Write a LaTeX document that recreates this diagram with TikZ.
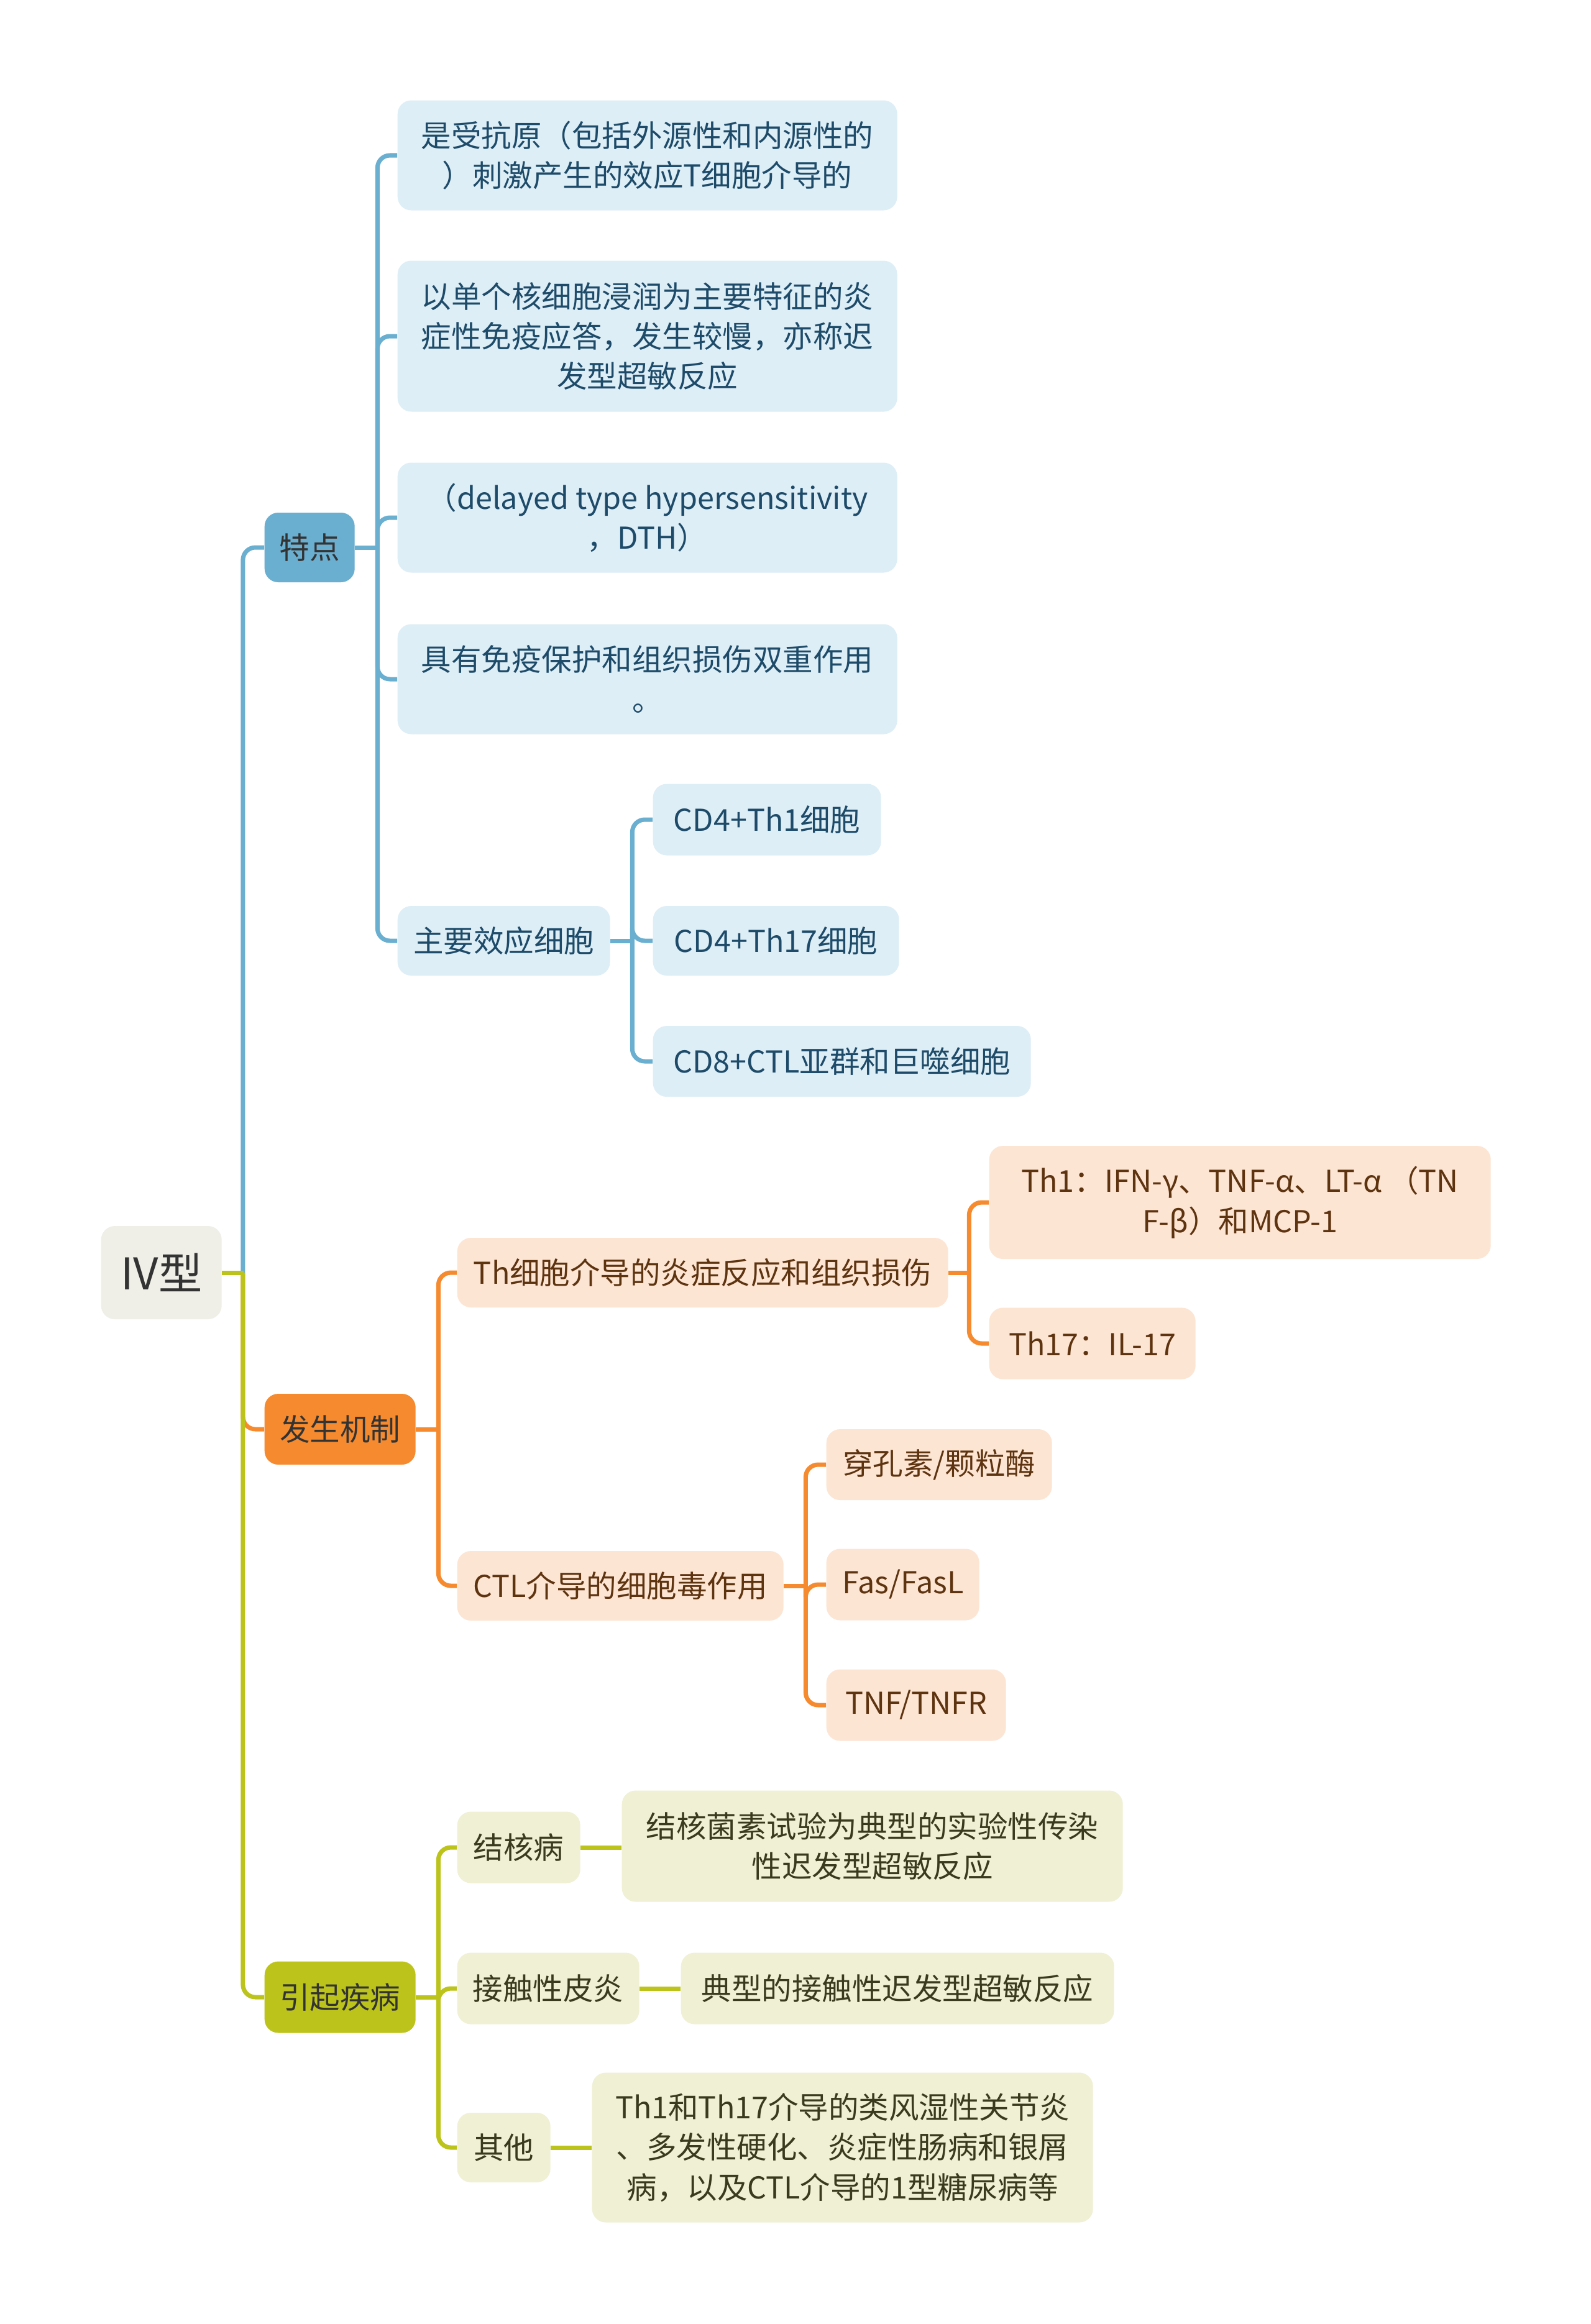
\documentclass[tikz,border=0pt]{standalone}
\usepackage{fontspec}
\setmainfont{Noto Sans CJK SC}
\usepackage{xcolor}
\usetikzlibrary{positioning, calc}
\definecolor{blueM}{HTML}{6AAED0}
\definecolor{blueL}{HTML}{DEEEF6}
\definecolor{blueT}{HTML}{1D4B69}
\definecolor{oraM}{HTML}{F58A2E}
\definecolor{oraL}{HTML}{FDE5D4}
\definecolor{oraT}{HTML}{5E3410}
\definecolor{grnM}{HTML}{BCC41B}
\definecolor{grnL}{HTML}{F0F0D4}
\definecolor{grnT}{HTML}{3A3A1E}
\definecolor{rootF}{HTML}{EFEFE8}
\definecolor{txtD}{HTML}{333333}
\tikzset{
  box/.style    = {rectangle, rounded corners=2.2mm, inner sep=0pt, anchor=west,
                   align=center, font=\fontsize{13.8}{18.3}\selectfont},
  sz/.style 2 args = {minimum width=#1cm, minimum height=#2cm},
  rootbox/.style = {box, fill=rootF, text=txtD, font=\fontsize{20}{24}\selectfont},
  mainB/.style  = {box, fill=blueM, text=txtD},
  mainO/.style  = {box, fill=oraM,  text=txtD},
  mainG/.style  = {box, fill=grnM,  text=txtD},
  subB/.style   = {box, fill=blueL, text=blueT},
  subO/.style   = {box, fill=oraL,  text=oraT},
  subG/.style   = {box, fill=grnL,  text=grnT},
  lineB/.style  = {draw=blueM, line width=2pt, rounded corners=2mm},
  lineO/.style  = {draw=oraM,  line width=2pt, rounded corners=2mm},
  lineG/.style  = {draw=grnM,  line width=2pt, rounded corners=2mm},
}

\begin{document}
\begin{tikzpicture}[y=-1cm]
    \fill[white] (0,0) rectangle (25.6,37.4);
    \useasboundingbox (0,0) rectangle (25.6,37.4);

    %% Root and main branches
    \node[rootbox, sz={1.94}{1.50}] (root)    at (1.62,20.48) {IV型};
    \node[mainB,   sz={1.45}{1.12}] (tedian)  at (4.25,8.81)  {特点};
    \node[mainO,   sz={2.43}{1.14}] (fasheng) at (4.25,23.00) {发生机制};
    \node[mainG,   sz={2.43}{1.15}] (yinqi)   at (4.25,32.14) {引起疾病};

    %% 特点
    \node[subB, sz={8.04}{1.77}] (t1) at (6.39,2.50)  {是受抗原（包括外源性和内源性的\\）刺激产生的效应T细胞介导的};
    \node[subB, sz={8.04}{2.43}] (t2) at (6.39,5.41)  {以单个核细胞浸润为主要特征的炎\\症性免疫应答，发生较慢，亦称迟\\发型超敏反应};
    \node[subB, sz={8.04}{1.77}] (t3) at (6.39,8.33)  {（delayed type hypersensitivity\\，DTH）};
    \node[subB, sz={8.04}{1.77}] (t4) at (6.39,10.93) {具有免疫保护和组织损伤双重作用\\。};
    \node[subB, sz={3.42}{1.12}] (t5) at (6.39,15.14) {主要效应细胞};

    \node[subB, sz={3.67}{1.15}] (c1) at (10.50,13.19) {CD4+Th1细胞};
    \node[subB, sz={3.96}{1.12}] (c2) at (10.50,15.14) {CD4+Th17细胞};
    \node[subB, sz={6.08}{1.14}] (c3) at (10.50,17.08) {CD8+CTL亚群和巨噬细胞};

    %% 发生机制
    \node[subO, sz={7.90}{1.12}] (o1) at (7.35,20.48) {Th细胞介导的炎症反应和组织损伤};
    \node[subO, sz={5.25}{1.12}] (o2) at (7.35,25.52) {CTL介导的细胞毒作用};

    \node[subO, sz={8.07}{1.82}] (o11) at (15.91,19.35) {Th1：IFN-γ、TNF-α、LT-α （TN\\F-β）和MCP-1};
    \node[subO, sz={3.32}{1.15}] (o12) at (15.91,21.62) {Th17：IL-17};

    \node[subO, sz={3.63}{1.14}] (o21) at (13.29,23.57) {穿孔素/颗粒酶};
    \node[subO, sz={2.46}{1.15}] (o22) at (13.29,25.50) {Fas/FasL};
    \node[subO, sz={2.89}{1.15}] (o23) at (13.29,27.44) {TNF/TNFR};

    %% 引起疾病
    \node[subG, sz={1.98}{1.15}] (g1) at (7.35,29.73) {结核病};
    \node[subG, sz={2.93}{1.15}] (g2) at (7.35,32.00) {接触性皮炎};
    \node[subG, sz={1.50}{1.12}] (g3) at (7.35,34.56) {其他};

    \node[subG, sz={8.06}{1.79}] (g11) at (10.00,29.71) {结核菌素试验为典型的实验性传染\\性迟发型超敏反应};
    \node[subG, sz={6.97}{1.15}] (g21) at (10.95,32.00) {典型的接触性迟发型超敏反应};
    \node[subG, sz={8.06}{2.41}] (g31) at (9.52,34.56)  {Th1和Th17介导的类风湿性关节炎\\、多发性硬化、炎症性肠病和银屑\\病，以及CTL介导的1型糖尿病等};

    %% Connectors
    \draw[lineO] ([xshift=3.35mm]root.east) |- (fasheng.west);
    \draw[lineB] ([xshift=3.35mm]root.east) |- (tedian.west);
    \draw[lineG] ([xshift=3.35mm]root.east) |- (yinqi.west);
    \draw[lineG] (root.east) -- ++(0.35,0);

    \draw[lineB] (tedian.east) -- ++(0.36,0);
    \foreach \c in {t1,t2,t3,t4,t5}
      \draw[lineB] ([xshift=3.6mm]tedian.east) |- (\c.west);
    \draw[lineB] (t5.east) -- ++(0.35,0);
    \foreach \c in {c1,c2,c3}
      \draw[lineB] ([xshift=3.5mm]t5.east) |- (\c.west);

    \draw[lineO] (fasheng.east) -- ++(0.36,0);
    \foreach \c in {o1,o2}
      \draw[lineO] ([xshift=3.6mm]fasheng.east) |- (\c.west);
    \draw[lineO] (o1.east) -- ++(0.33,0);
    \foreach \c in {o11,o12}
      \draw[lineO] ([xshift=3.3mm]o1.east) |- (\c.west);
    \draw[lineO] (o2.east) -- ++(0.35,0);
    \foreach \c in {o21,o22,o23}
      \draw[lineO] ([xshift=3.5mm]o2.east) |- (\c.west);

    \draw[lineG] (yinqi.east) -- ++(0.36,0);
    \foreach \c in {g1,g2,g3}
      \draw[lineG] ([xshift=3.6mm]yinqi.east) |- (\c.west);
    \draw[lineG] (g1.east) -- (g11.west |- g1.east);
    \draw[lineG] (g2.east) -- (g21.west);
    \draw[lineG] (g3.east) -- (g31.west);

\end{tikzpicture}
\end{document}
